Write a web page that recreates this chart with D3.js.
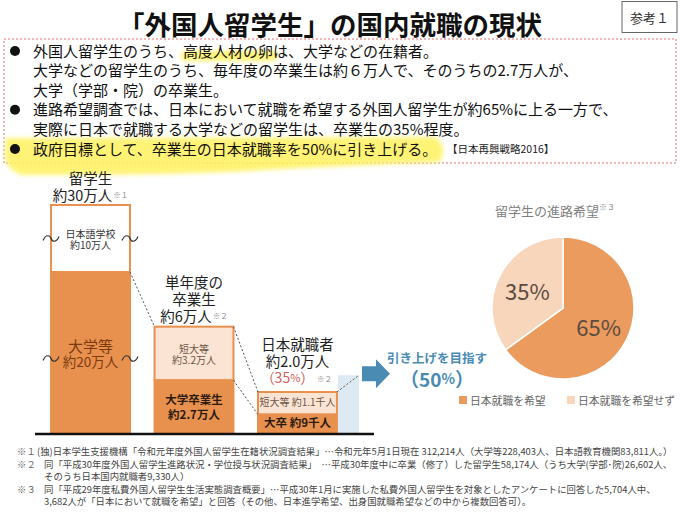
<!DOCTYPE html>
<html>
<head>
<meta charset="utf-8">
<script src="https://cdn.jsdelivr.net/npm/d3@7"></script>
<style>
  body { margin: 0; background: #fff; }
  svg { display: block; font-family: "Noto Sans CJK JP", "Noto Sans", sans-serif; }
</style>
</head>
<body>
<div id="chart"></div>
<script>
// ---- data ----
var barNames = ["留学生", "卒業生", "就職者"];
var lowerValues = [20, 2.7, 0.9];   // 万人: 大学等 / 大学卒業生 / 大卒
var upperValues = [10, 3.2, 1.1];   // 万人: 日本語学校 / 短大等 / 短大等
var targetValue = 3.0;              // 50% of 約6万人
var headLabels = [["留学生", "約30万人"], ["単年度の", "卒業生", "約6万人"], ["日本就職者", "約2.0万人"]];
var headNotes = ["※１", "※２", "※２"];
var upperLabels = [["日本語学校", "約10万人"], ["短大等", "約3.2万人"], ["短大等 約1.1千人"]];
var lowerLabels = [["大学等", "約20万人"], ["大学卒業生", "約2.7万人"], ["大卒 約9千人"]];
var pieLabels = ["日本就職を希望", "日本就職を希望せず"];
var pieValues = [65, 35];
var bulletLines = [
  { bullet: true, text: "外国人留学生のうち、高度人材の卵は、大学などの在籍者。" },
  { bullet: false, text: "大学などの留学生のうち、毎年度の卒業生は約６万人で、そのうちの2.7万人が、" },
  { bullet: false, text: "大学（学部・院）の卒業生。" },
  { bullet: true, text: "進路希望調査では、日本において就職を希望する外国人留学生が約65%に上る一方で、" },
  { bullet: false, text: "実際に日本で就職する大学などの留学生は、卒業生の35%程度。" },
  { bullet: true, text: "政府目標として、卒業生の日本就職率を50%に引き上げる。" }
];
var footMarks = ["※１", "※２", "", "※３", ""];
var footLines = [
  "(独)日本学生支援機構「令和元年度外国人留学生在籍状況調査結果」…令和元年5月1日現在 312,214人（大学等228,403人、日本語教育機関83,811人。）",
  "同「平成30年度外国人留学生進路状況・学位授与状況調査結果」　…平成30年度中に卒業（修了）した留学生58,174人（うち大学(学部･院)26,602人、",
  "そのうち日本国内就職者9,330人）",
  "同「平成29年度私費外国人留学生生活実態調査概要」…平成30年1月に実施した私費外国人留学生を対象としたアンケートに回答した5,704人中、",
  "3,682人が「日本において就職を希望」と回答（その他、日本進学希望、出身国就職希望などの中から複数回答可）。"
];

var orange = "#e8914e", light = "#fce4d4", white = "#ffffff";

var svg = d3.select("#chart").append("svg")
  .attr("width", 680).attr("height", 512);

var defs = svg.append("defs");
defs.append("filter").attr("id", "soft")
  .attr("x", "-5%").attr("y", "-30%").attr("width", "110%").attr("height", "160%")
  .append("feGaussianBlur").attr("stdDeviation", 2.2);

// ---- title ----
svg.append("text")
  .attr("x", 330).attr("y", 23)
  .attr("text-anchor", "middle").attr("dominant-baseline", "central")
  .attr("font-size", 26.5).attr("font-weight", "bold").attr("fill", "#111")
  .text("「外国人留学生」の国内就職の現状");

svg.append("rect")
  .attr("x", 622).attr("y", 1.5).attr("width", 55).attr("height", 31)
  .attr("fill", "#fff").attr("stroke", "#666").attr("stroke-width", 1);
svg.append("text")
  .attr("x", 649.5).attr("y", 17.5)
  .attr("text-anchor", "middle").attr("dominant-baseline", "central")
  .attr("font-size", 13).attr("fill", "#333")
  .text("参考１");

// ---- bullet box ----
svg.append("rect")
  .attr("x", 4).attr("y", 39).attr("width", 672).attr("height", 124)
  .attr("fill", "none").attr("stroke", "#e07070").attr("stroke-width", 1)
  .attr("stroke-dasharray", "2,2");

var lineY = d3.scaleLinear().domain([0, 5]).range([50, 148]);

var hl = svg.append("g");
// brush highlight behind last bullet
hl.append("path")
  .attr("d", "M6,138 L436,137 Q448,148 440,162 L300,168 Q180,176 22,175 Q4,170 5,152 Z")
  .attr("fill", "#fff25e").attr("opacity", 0.85).attr("filter", "url(#soft)");

var bulletG = svg.append("g");
var bulletTexts = bulletG.selectAll("text.line")
  .data(bulletLines).enter().append("text")
  .attr("class", "line")
  .attr("x", 33).attr("y", (d, i) => lineY(i))
  .attr("dominant-baseline", "central")
  .attr("font-size", 15).attr("fill", "#111")
  .text(d => d.text);

bulletG.selectAll("circle.dot")
  .data(bulletLines.map((d, i) => ({ b: d.bullet, i: i })).filter(d => d.b))
  .enter().append("circle")
  .attr("cx", 15).attr("cy", d => lineY(d.i) + 1).attr("r", 5).attr("fill", "#111");

// highlight under 高度人材の卵
var first = bulletTexts.nodes()[0];
var startX = 33 + first.getSubStringLength(0, 10);
var hlW = first.getSubStringLength(10, 6);
hl.append("rect")
  .attr("x", startX - 2).attr("y", lineY(0) + 1).attr("width", hlW + 6).attr("height", 10)
  .attr("rx", 4).attr("fill", "#fff25e").attr("opacity", 0.85).attr("filter", "url(#soft)");

svg.append("text")
  .attr("x", 447).attr("y", lineY(5))
  .attr("dominant-baseline", "central")
  .attr("font-size", 10.5).attr("fill", "#222")
  .text("【日本再興戦略2016】");

// ---- bars ----
var x = d3.scaleBand().domain(barNames).range([40.7, 347.3]).paddingInner(0.237).paddingOuter(0.1);
// broken axis: piecewise linear scale
var y = d3.scaleLinear().domain([0, 2, 6, 20, 30]).range([433, 392, 325, 272, 205]);
var bw = x.bandwidth();

var bars = barNames.map((n, i) => ({
  name: n, i: i, lo: lowerValues[i], hi: upperValues[i], total: lowerValues[i] + upperValues[i]
}));

var barG = svg.append("g");

barG.selectAll("rect.upper").data(bars).enter().append("rect")
  .attr("class", "upper")
  .attr("x", d => x(d.name)).attr("y", d => y(d.total))
  .attr("width", bw).attr("height", d => y(d.lo) - y(d.total))
  .attr("fill", d => d.i === 0 ? white : light)
  .attr("stroke", orange).attr("stroke-width", 2);

barG.selectAll("rect.lower").data(bars).enter().append("rect")
  .attr("class", "lower")
  .attr("x", d => x(d.name)).attr("y", d => y(d.lo))
  .attr("width", bw).attr("height", d => y(0) - y(d.lo))
  .attr("fill", orange).attr("stroke", orange).attr("stroke-width", 2);

// target (50%)
var lastName = barNames[2];
var tx = x(lastName) + bw;
barG.append("rect")
  .attr("x", tx + 1).attr("y", y(targetValue))
  .attr("width", 21).attr("height", y(0) - y(targetValue))
  .attr("fill", "#dde9f3");

// dotted connectors
var conn = [
  [x(barNames[0]) + bw, y(bars[0].lo), x(barNames[1]), y(bars[1].total)],
  [x(barNames[1]) + bw, y(bars[1].total), x(barNames[2]), y(bars[2].total)],
  [x(barNames[1]) + bw, y(bars[1].lo), x(barNames[2]), y(bars[2].lo)],
  [tx, y(bars[2].total), tx + 22, y(targetValue)]
];
barG.selectAll("line.conn").data(conn).enter().append("line")
  .attr("x1", d => d[0]).attr("y1", d => d[1]).attr("x2", d => d[2]).attr("y2", d => d[3])
  .attr("stroke", "#555").attr("stroke-width", 1).attr("stroke-dasharray", "2,2");

// baseline
barG.append("line")
  .attr("x1", 35).attr("x2", 374).attr("y1", y(0) + 1).attr("y2", y(0) + 1)
  .attr("stroke", "#111").attr("stroke-width", 2.5);

// break marks on bar 1
function wave(cx, cy) {
  return "M" + (cx - 8) + "," + (cy + 2) +
    " C" + (cx - 5) + "," + (cy - 5) + " " + (cx - 1) + "," + (cy - 3) + " " + cx + "," + cy +
    " C" + (cx + 1) + "," + (cy + 3) + " " + (cx + 5) + "," + (cy + 5) + " " + (cx + 8) + "," + (cy - 2);
}
var b0 = bars[0];
var waveYs = [(y(b0.total) + y(b0.lo)) / 2, (y(b0.lo) + y(0)) / 2 + 6];
waveYs.forEach(function (wy) {
  [x(b0.name), x(b0.name) + bw].forEach(function (wx) {
    barG.append("path").attr("d", wave(wx, wy))
      .attr("fill", "none").attr("stroke", "#333").attr("stroke-width", 1.2);
  });
});

// one <text> per label block, one <tspan> per line
function block(g, cx, firstY, lines, step, sizes) {
  var t = g.append("text").attr("x", cx).attr("y", firstY).attr("dominant-baseline", "central");
  lines.forEach(function (s, k) {
    t.append("tspan").attr("x", cx).attr("dy", k === 0 ? 0 : step)
      .attr("font-size", sizes[k] || sizes[0]).text(s);
  });
  return t;
}

// labels above bars
var headG = svg.append("g").attr("text-anchor", "middle").attr("fill", "#222");
var headStep = 17;
bars.forEach(function (d) {
  var lines = headLabels[d.i];
  var cx = x(d.name) + bw / 2;
  var extra = d.i === 2 ? 1 : 0;
  var lastY = y(d.total) - (d.i === 2 ? 15 : 11.5);
  var top = lastY - (lines.length - 1 + extra) * headStep;
  var t = block(headG, cx, top, lines, headStep, [14.5]);
  if (d.i !== 2) {
    t.append("tspan").attr("font-size", 7.5).attr("fill", "#888").attr("dx", 1).text(headNotes[d.i]);
  } else {
    t.append("tspan").attr("x", cx - 10).attr("dy", headStep).attr("font-size", 14).attr("fill", "#d0605c").text("（35");
    t.append("tspan").attr("font-size", 11).attr("fill", "#d0605c").text("%");
    t.append("tspan").attr("font-size", 14).attr("fill", "#d0605c").text("）");
    t.append("tspan").attr("x", cx + 27).attr("dy", 1).attr("font-size", 7.5).attr("fill", "#888").text(headNotes[d.i]);
  }
});

// labels inside bars
var inG = svg.append("g").attr("text-anchor", "middle");
bars.forEach(function (d) {
  var cx = x(d.name) + bw / 2;
  var uc = (y(d.total) + y(d.lo)) / 2;
  var lc = (y(d.lo) + y(0)) / 2;
  var ul = upperLabels[d.i], ll = lowerLabels[d.i];
  var uStep = 11.5, lStep = d.i === 0 ? 16 : 15;
  var shift = d.i === 2 ? 2 : 0;
  block(inG, cx, uc - (ul.length - 1) / 2 * uStep - shift, ul, uStep, [10])
    .attr("fill", d.i === 0 ? "#333" : "#6a5648");
  block(inG, cx, lc - (ll.length - 1) / 2 * lStep - shift, ll, lStep,
      d.i === 0 ? [15, 13.5] : [11.5])
    .attr("font-weight", d.i === 0 ? "normal" : "bold")
    .attr("fill", d.i === 0 ? "#7c3a10" : "#2a1a10");
});

// arrow
var ax = tx + 25, ay = y(targetValue) - 2;
svg.append("path")
  .attr("d", "M" + ax + "," + (ay - 7) + " h14 v-7 l14,14.5 l-14,14.5 v-7 h-14 Z")
  .attr("fill", "#4a8bb3");

var goalG = svg.append("g").attr("text-anchor", "middle").attr("fill", "#4a8bb3").attr("font-weight", "bold");
var goal = goalG.append("text").attr("x", 437).attr("y", 357).attr("dominant-baseline", "central");
goal.append("tspan").attr("x", 437).attr("font-size", 12.5).text("引き上げを目指す");
goal.append("tspan").attr("x", 437).attr("dy", 21).attr("font-size", 19).text("（50");
goal.append("tspan").attr("font-size", 14).text("%");
goal.append("tspan").attr("font-size", 19).text("）");

// ---- pie ----
var pieG = svg.append("g").attr("transform", "translate(563,308)");
var pieColors = ["#eb9b5e", "#f7d6bc"];
var arcs = d3.pie().sort(null)(pieValues);
var arc = d3.arc().innerRadius(0).outerRadius(71);
var labelArc = d3.arc().innerRadius(40).outerRadius(40);

pieG.selectAll("path").data(arcs).enter().append("path")
  .attr("d", arc).attr("fill", (d, i) => pieColors[i])
  .attr("stroke", "#fff").attr("stroke-width", 1.5);

pieG.selectAll("text").data(arcs).enter().append("text")
  .attr("transform", d => "translate(" + labelArc.centroid(d) + ")")
  .attr("text-anchor", "middle").attr("dominant-baseline", "central")
  .attr("font-size", 22).attr("fill", "#5a4a40")
  .text(d => d.data + "%");

var pt = svg.append("text")
  .attr("x", 555).attr("y", 210).attr("text-anchor", "middle")
  .attr("dominant-baseline", "central")
  .attr("font-size", 13).attr("fill", "#7f7f7f")
  .text("留学生の進路希望");
pt.append("tspan").attr("font-size", 8).attr("dy", -4).text("※３");

var legX = d3.scalePoint().domain(pieLabels).range([459, 567]);
var leg = svg.append("g").selectAll("g").data(pieLabels).enter().append("g")
  .attr("transform", d => "translate(" + legX(d) + ",400)");
leg.append("rect").attr("x", 0).attr("y", -4).attr("width", 8).attr("height", 8)
  .attr("fill", (d, i) => pieColors[i]);
leg.append("text").attr("x", 11).attr("y", 0).attr("dominant-baseline", "central")
  .attr("font-size", 10.8).attr("fill", "#666").text(d => d);

// ---- footnotes ----
var fy = d3.scaleLinear().domain([0, 4]).range([451, 501]);
var foot = svg.append("g").attr("font-size", 9.4).attr("fill", "#444");
foot.selectAll("text.mark").data(footMarks).enter().append("text")
  .attr("class", "mark").attr("x", 17).attr("y", (d, i) => fy(i))
  .attr("dominant-baseline", "central").attr("fill", "#666").text(d => d);
foot.selectAll("text.note").data(footLines).enter().append("text")
  .attr("class", "note").attr("x", (d, i) => i === 0 ? 37 : 44).attr("y", (d, i) => fy(i))
  .attr("dominant-baseline", "central").text(d => d);
</script>
</body>
</html>
